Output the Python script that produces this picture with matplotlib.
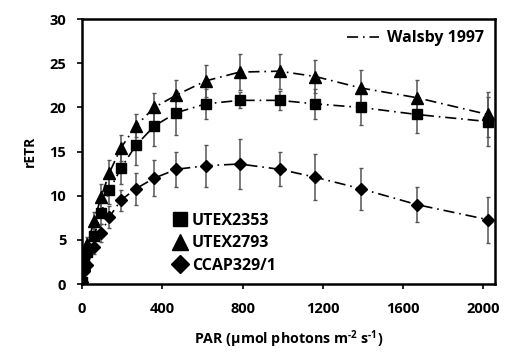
import numpy as np
import matplotlib
matplotlib.use("Agg")
import matplotlib.pyplot as plt
from matplotlib.lines import Line2D

plt.rcParams['font.family'] = ['Open Sans', 'DejaVu Sans']
plt.rcParams['font.weight'] = 'bold'
plt.rcParams['mathtext.fontset'] = 'custom'
plt.rcParams['mathtext.rm'] = 'Open Sans:bold'
plt.rcParams['mathtext.bf'] = 'Open Sans:bold'
plt.rcParams['lines.scale_dashes'] = False

# light steps (PAR)
par = [0, 11, 26, 60, 95, 136, 193, 268, 360, 470, 616, 785, 985, 1163, 1390, 1670, 2023]

utex2353 = [0.2, 2.6, 3.6, 5.5, 8.1, 10.6, 13.1, 15.7, 17.9, 19.4, 20.4, 20.8, 20.8, 20.4, 20.0, 19.2, 18.4]
utex2353_err = [0.2, 0.5, 0.7, 1.0, 1.3, 1.5, 1.8, 2.2, 2.3, 2.5, 1.7, 0.9, 1.1, 1.7, 2.0, 2.1, 2.8]

utex2793 = [0.5, 2.3, 4.5, 7.2, 9.9, 12.6, 15.4, 17.9, 20.0, 21.4, 23.0, 24.0, 24.1, 23.5, 22.2, 21.1, 19.2]
utex2793_err = [0.2, 0.5, 0.8, 1.0, 1.4, 1.5, 1.5, 1.3, 1.6, 1.7, 1.8, 2.0, 2.0, 1.9, 2.0, 2.0, 2.6]

ccap = [0.3, 1.5, 2.2, 4.2, 5.8, 7.6, 9.5, 10.8, 12.0, 13.0, 13.4, 13.6, 13.0, 12.1, 10.8, 9.0, 7.3]
ccap_err = [0.2, 0.5, 0.6, 0.8, 1.0, 1.3, 1.2, 1.8, 2.0, 2.0, 2.4, 2.8, 1.9, 2.6, 2.4, 2.0, 2.6]

series = [
    ("UTEX2353", utex2353, utex2353_err, 's', 7.0),
    ("UTEX2793", utex2793, utex2793_err, '^', 8.0),
    ("CCAP329/1", ccap, ccap_err, 'D', 6.0),
]

dashdot = (0, (8, 3.5, 1.2, 3.5))

fig = plt.figure(figsize=(5.1, 3.53), dpi=100)
ax = fig.add_axes([0.161, 0.195, 0.81, 0.751])

for name, y, e, m, ms in series:
    ax.errorbar(par, y, yerr=e, fmt='none', ecolor='#555555', elinewidth=1.1,
                capsize=1.5, capthick=1.0, zorder=2)
    ax.plot(par, y, color='black', lw=1.2, linestyle=dashdot, zorder=3)
    ax.plot(par, y, linestyle='none', marker=m, ms=ms, color='black', zorder=4)

ax.set_xlim(0, 2060)
ax.set_ylim(0, 30)
ax.set_xticks([0, 400, 800, 1200, 1600, 2000])
ax.set_yticks([0, 5, 10, 15, 20, 25, 30])
ax.tick_params(direction='out', length=3.5, width=1.2, labelsize=10.5)
ax.tick_params(axis='y', pad=8)
ax.tick_params(axis='x', pad=9)
for sp in ax.spines.values():
    sp.set_linewidth(1.8)
    sp.set_color('black')

ax.set_xlabel('PAR (µmol photons m$^{\\text{-2}}$ s$^{\\text{-1}}$)', fontsize=10.3,
              fontweight='bold', labelpad=9)
ax.set_ylabel('rETR', fontsize=10, fontweight='bold', labelpad=9)

h1 = [Line2D([], [], linestyle='none', marker=m, ms=ms * 1.45, color='black')
      for _, _, _, m, ms in series]
leg1 = ax.legend(h1, [s[0] for s in series], loc='lower left',
                 bbox_to_anchor=(0.185, -0.015), frameon=False,
                 handlelength=0.9, handletextpad=0.3, labelspacing=0.4,
                 prop={'weight': 'bold', 'size': 11.5})
ax.add_artist(leg1)

h2 = [Line2D([], [], color='black', lw=1.2, linestyle=dashdot)]
ax.legend(h2, ['Walsby 1997'], loc='upper right', frameon=False,
          handlelength=2.0, handletextpad=0.5, borderaxespad=0.3,
          prop={'weight': 'bold', 'size': 11.5})

fig.savefig('out.png', dpi=100)
